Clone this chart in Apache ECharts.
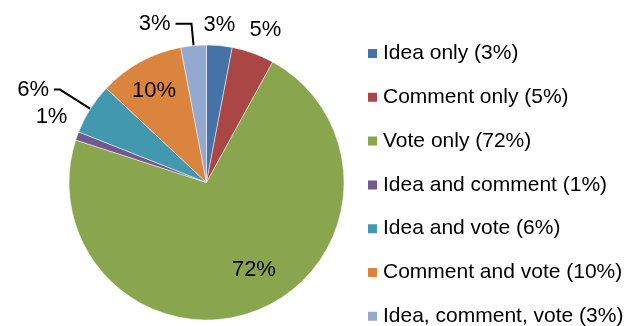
<!DOCTYPE html>
<html>
<head>
<meta charset="utf-8">
<script src="https://cdn.jsdelivr.net/npm/echarts@6/dist/echarts.min.js"></script>
<style>
  html, body { margin: 0; padding: 0; background: #fff; }
  #chart { width: 636px; height: 326px; }
</style>
</head>
<body>
<div id="chart"></div>
<script>
// Participation breakdown by activity type
const categories = [
  'Idea only',
  'Comment only',
  'Vote only',
  'Idea and comment',
  'Idea and vote',
  'Comment and vote',
  'Idea, comment, vote'
];
const shares = [3, 5, 72, 1, 6, 10, 3];
const colors = ['#4572A7', '#AA4643', '#89A54E', '#71588F', '#4198AF', '#DB843D', '#93A9CF'];

// Per-slice label placement: inside for the large slices, outside otherwise
const labelStyles = [
  { position: 'outside', line: false, len: 21, len2: 0 },
  { position: 'outside', line: false, len: 25, len2: 0 },
  { position: 'inside' },
  { position: 'outside', line: false, len: 5, len2: 0 },
  { position: 'outside', line: true, len: 36, len2: 6 },
  { position: 'inside' },
  { position: 'outside', line: true, len: 22, len2: 16 }
];
// Small nudges of label text away from the default anchor
const labelNudge = [[-23, 0], [-17, 0], [21, 21], [0, -17], [0, 0], [-18, -29], [0, 0]];

const legendNames = categories.map((c, i) => c + ' (' + shares[i] + '%)');

const data = shares.map((v, i) => {
  const s = labelStyles[i];
  const item = {
    name: legendNames[i],
    value: v,
    itemStyle: { color: colors[i] },
    label: { position: s.position },
    labelLine: { show: !!s.line, lineStyle: { color: '#000', width: 2 } }
  };
  if (s.position === 'outside') {
    item.labelLine.length = s.len;
    item.labelLine.length2 = s.len2;
  }
  return item;
});

const chart = echarts.init(document.getElementById('chart'), null, { renderer: 'canvas' });
chart.setOption({
  animation: false,
  backgroundColor: '#ffffff',
  legend: {
    orient: 'vertical',
    left: 366,
    top: 43,
    height: 300,
    padding: 0,
    itemWidth: 11,
    itemHeight: 11,
    itemGap: 22.8,
    icon: 'rect',
    selectedMode: false,
    data: legendNames,
    textStyle: {
      fontFamily: 'Liberation Sans, Arial, sans-serif',
      fontSize: 21,
      lineHeight: 21,
      color: '#000',
      padding: [0, 0, 0, 0]
    }
  },
  series: [{
    type: 'pie',
    center: [206.5, 182.5],
    radius: 137.5,
    startAngle: 90,
    clockwise: true,
    avoidLabelOverlap: false,
    itemStyle: { borderColor: '#ffffff', borderWidth: 0.5 },
    label: {
      show: true,
      formatter: p => p.value + '%',
      fontFamily: 'Liberation Sans, Arial, sans-serif',
      fontSize: 22,
      color: '#000',
      distanceToLabelLine: 5
    },
    labelLine: {
      lineStyle: { color: '#000', width: 2 },
      smooth: false
    },
    labelLayout: p => {
      const n = labelNudge[p.dataIndex];
      return { dx: n[0], dy: n[1] };
    },
    emphasis: { disabled: true },
    data: data
  }]
});
</script>
</body>
</html>
